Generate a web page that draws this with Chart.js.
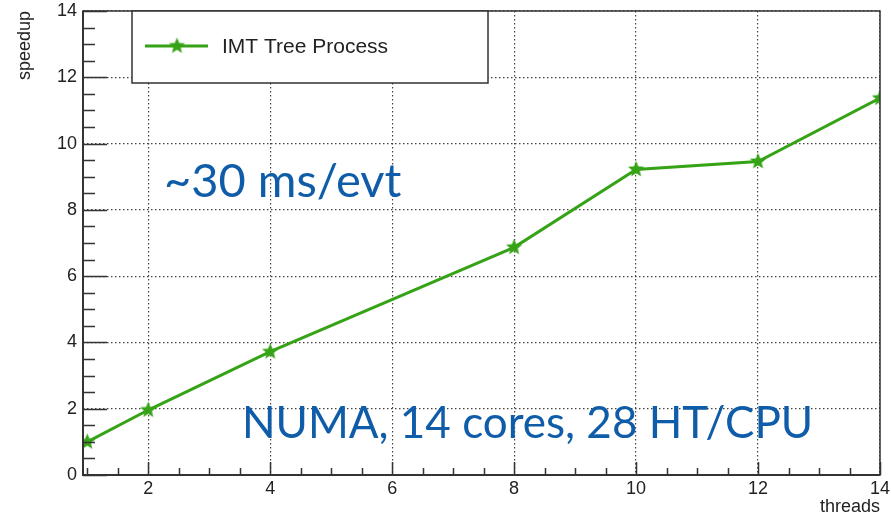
<!DOCTYPE html>
<html>
<head>
<meta charset="utf-8">
<script src="https://cdn.jsdelivr.net/npm/chart.js@4.4.0/dist/chart.umd.min.js"></script>
<style>
  html, body { margin: 0; padding: 0; background: #fff; }
  #wrap { width: 891px; height: 518px; }
</style>
</head>
<body>
<div id="wrap"><canvas id="c"></canvas></div>
<script>
// data
const threads = [1, 2, 4, 8, 10, 12, 14];
const speedup = [1.0, 1.96, 3.72, 6.87, 9.22, 9.46, 11.37];
const xTicks = [2, 4, 6, 8, 10, 12, 14];
const yTicks = [0, 2, 4, 6, 8, 10, 12, 14];
const seriesLabel = 'IMT Tree Process';
const noteTop = '~30 ms/evt';
const noteBottom = 'NUMA, 14 cores, 28 HT/CPU';

const GREEN = '#36a317';
const BLUE = '#0f5ca8';
const FRAME = '#333';

function makeStar(r, color) {
    const s = Math.ceil(r * 2 + 2);
    const cv = document.createElement('canvas');
    cv.width = s; cv.height = s;
    const g = cv.getContext('2d');
    g.fillStyle = color;
    g.beginPath();
    for (let i = 0; i < 10; i++) {
        const a = -Math.PI / 2 + i * Math.PI / 5;
        const rr = i % 2 ? r * 0.45 : r;
        g.lineTo(s / 2 + rr * Math.cos(a), s / 2 + rr * Math.sin(a));
    }
    g.closePath();
    g.fill();
    return cv;
}

const star = makeStar(8.5, GREEN);

// frame, inward ticks, legend box and the two notes
const rootDecor = {
    id: 'rootDecor',
    beforeDraw(chart) {
        const ctx = chart.ctx;
        ctx.save();
        ctx.fillStyle = '#fff';
        ctx.fillRect(0, 0, chart.width, chart.height);
        ctx.restore();
    },
    afterDatasetsDraw(chart) {
        const { ctx, chartArea: a, scales: { x, y } } = chart;
        ctx.save();

        // ticks
        ctx.strokeStyle = FRAME;
        ctx.lineWidth = 1.5;
        ctx.beginPath();
        for (let v = 1; v <= 14.001; v += 0.5) {
            const px = Math.round(x.getPixelForValue(v)) + 0.5;
            const len = v % 2 === 0 ? 13 : 7;
            ctx.moveTo(px, a.bottom);
            ctx.lineTo(px, a.bottom - len);
        }
        for (let v = 0; v <= 14.001; v += 0.5) {
            const py = Math.round(y.getPixelForValue(v)) + 0.5;
            const len = v % 2 === 0 ? 24 : 12;
            ctx.moveTo(a.left, py);
            ctx.lineTo(a.left + len, py);
        }
        ctx.stroke();

        // frame
        ctx.lineWidth = 1.5;
        ctx.strokeRect(a.left, a.top, a.right - a.left, a.bottom - a.top);
        ctx.lineWidth = 2;
        ctx.beginPath();
        ctx.moveTo(a.left, a.top);
        ctx.lineTo(a.left, a.bottom);
        ctx.lineTo(a.right, a.bottom);
        ctx.stroke();

        // legend
        ctx.fillStyle = '#fff';
        ctx.fillRect(132, a.top, 356, 72);
        ctx.strokeStyle = FRAME;
        ctx.lineWidth = 1.5;
        ctx.strokeRect(132, a.top, 356, 72);
        ctx.strokeStyle = GREEN;
        ctx.lineWidth = 3;
        ctx.beginPath();
        ctx.moveTo(145, 46);
        ctx.lineTo(208, 46);
        ctx.stroke();
        ctx.drawImage(star, 177 - star.width / 2, 46 - star.height / 2);
        ctx.fillStyle = '#222';
        ctx.font = '21px "Liberation Sans"';
        ctx.textBaseline = 'middle';
        ctx.fillText(chart.data.datasets[0].label, 222, 47);

        // notes
        ctx.fillStyle = BLUE;
        ctx.textBaseline = 'alphabetic';
        ctx.font = '47px Lato';
        ctx.fillText(noteTop, 164, 197);
        ctx.font = '44px Lato';
        ctx.fillText(noteBottom, 242, 438);

        ctx.restore();
    }
};

Chart.defaults.font.family = '"Liberation Sans", Arial, sans-serif';
Chart.defaults.font.size = 18;
Chart.defaults.color = '#222';

new Chart(document.getElementById('c'), {
    type: 'line',
    data: {
        datasets: [{
            label: seriesLabel,
            data: threads.map((t, i) => ({ x: t, y: speedup[i] })),
            borderColor: GREEN,
            backgroundColor: GREEN,
            borderWidth: 3,
            tension: 0,
            pointStyle: star,
            pointRadius: 8,
            pointHoverRadius: 8
        }]
    },
    options: {
        responsive: true,
        maintainAspectRatio: false,
        animation: false,
        events: [],
        layout: { padding: { top: 10, right: 8, left: 0, bottom: 0 } },
        plugins: { legend: { display: false }, tooltip: { enabled: false } },
        scales: {
            x: {
                type: 'linear',
                min: 0.93,
                max: 14,
                afterBuildTicks: s => { s.ticks = xTicks.map(v => ({ value: v })); },
                afterFit: s => { s.height = 43; s.paddingLeft = 0; s.paddingRight = 0; },
                ticks: { padding: 3, maxRotation: 0, color: '#222' },
                grid: { color: '#444', lineWidth: 1.2, drawTicks: false },
                border: { display: false, dash: [1.5, 2.5] },
                title: {
                    display: true, text: 'threads', align: 'end',
                    color: '#222', font: { size: 18 }, padding: { top: 0, bottom: 0 }
                }
            },
            y: {
                type: 'linear',
                min: 0,
                max: 14,
                afterBuildTicks: s => { s.ticks = yTicks.map(v => ({ value: v })); },
                afterFit: s => { s.width = 83; s.paddingTop = 0; s.paddingBottom = 0; },
                ticks: { padding: 6, color: '#222' },
                grid: { color: '#444', lineWidth: 1.2, drawTicks: false },
                border: { display: false, dash: [1.5, 2.5] },
                title: {
                    display: true, text: 'speedup', align: 'end',
                    color: '#222', font: { size: 18 }, padding: { top: 14, bottom: 0 }
                }
            }
        }
    },
    plugins: [rootDecor]
});
</script>
</body>
</html>
